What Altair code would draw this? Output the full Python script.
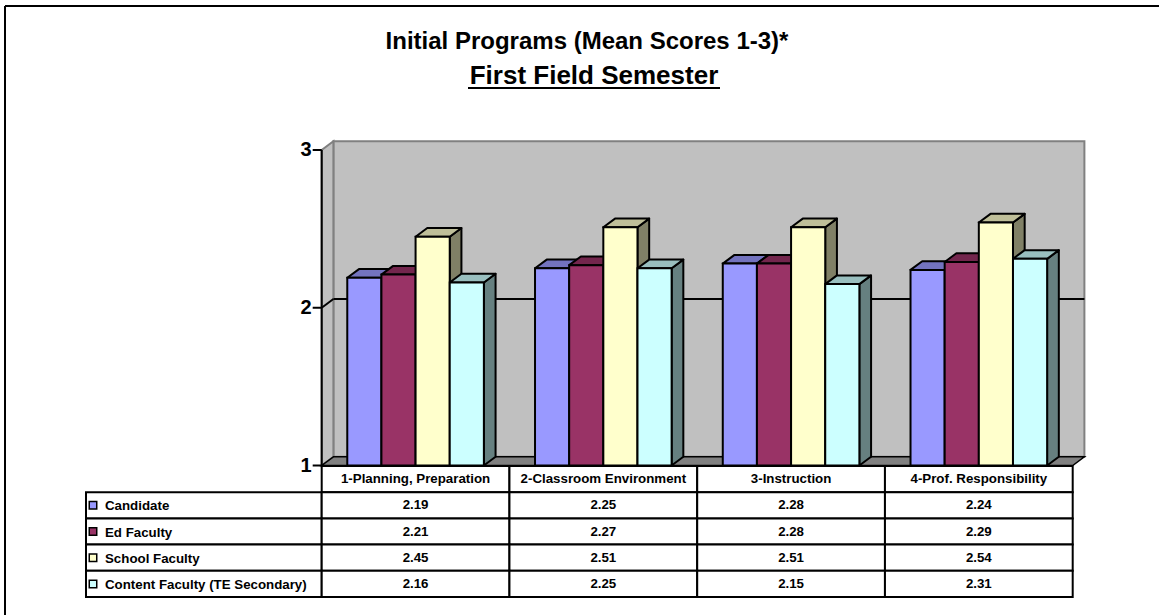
import altair as alt
import pandas as pd

# ---------------- data ----------------
categories = ["1-Planning, Preparation", "2-Classroom Environment",
              "3-Instruction", "4-Prof. Responsibility"]
series = ["Candidate", "Ed Faculty", "School Faculty",
          "Content Faculty (TE Secondary)"]
candidate = [2.19, 2.25, 2.28, 2.24]
ed_faculty = [2.21, 2.27, 2.28, 2.29]
school_faculty = [2.45, 2.51, 2.51, 2.54]
content_faculty = [2.16, 2.25, 2.15, 2.31]
y_ticks = [1, 2, 3]
grid_values = [2]
title_text = "Initial Programs (Mean Scores 1-3)*"
subtitle_text = "First Field Semester"

values = [candidate, ed_faculty, school_faculty, content_faculty]

# ---------------- style ----------------
front_colors = ["#9999FF", "#993366", "#FFFFCC", "#CCFFFF"]
top_colors = ["#7373BF", "#73264D", "#BFBF99", "#99BFBF"]
side_colors = ["#4D4D80", "#4D1A33", "#808066", "#668080"]
FONT = "Liberation Sans"

PX_X = 187.75                 # pixels per category unit
PX_Y = 157.75                 # pixels per score unit
PX_R = 26.2                   # pixels per table row
W, H = 1159, 615
X0, Y0, R0 = 321.7, 465.5, 466.0   # page position of category 0 / score 1 / row 0
X_DOM = [-X0 / PX_X, (W - X0) / PX_X]
Y_DOM = [1 - (H - Y0) / PX_Y, 1 + Y0 / PX_Y]
R_DOM = [-R0 / PX_R, (H - R0) / PX_R]
DX, DY = 11.7 / PX_X, 8.7 / PX_Y   # 3-D depth
GROUP = 0.7276
BW = GROUP / 4
BASE, TOP = 1, 3
LABEL_LEFT = -1.2554
TICK = 0.048
EDGE = 2


def X(f):
    return alt.X(f, type="quantitative",
                 scale=alt.Scale(domain=X_DOM, nice=False, zero=False), axis=None)


def Y(f):
    return alt.Y(f, type="quantitative",
                 scale=alt.Scale(domain=Y_DOM, nice=False, zero=False),
                 axis=None, stack=None)


def R(f):
    return alt.Y(f, type="quantitative",
                 scale=alt.Scale(domain=R_DOM, nice=False, zero=False, reverse=True),
                 axis=None)


# ---------------- tables for marks ----------------
fronts, sides, tops = [], [], []
for c, cat in enumerate(categories):
    for s, ser in enumerate(series):
        v = values[s][c]
        xl = c + 0.5 - GROUP / 2 + s * BW
        xr = xl + BW
        bid = f"{c}-{s}"
        fronts.append(dict(id=bid, xl=xl, xr=xr, y=BASE, v=v, col=front_colors[s]))
        sides.append(dict(id=bid, x=xr, y=BASE, y2=v, col=side_colors[s]))
        sides.append(dict(id=bid, x=xr + DX, y=BASE + DY, y2=v + DY, col=side_colors[s]))
        tops.append(dict(id=bid, y=v, x=xl, x2=xr, col=top_colors[s]))
        tops.append(dict(id=bid, y=v + DY, x=xl + DX, x2=xr + DX, col=top_colors[s]))
front_df = pd.DataFrame(fronts)
side_df = pd.DataFrame(sides)
top_df = pd.DataFrame(tops)

n = len(categories)
wall_df = pd.DataFrame([dict(x=DX, x2=n + DX, y=BASE + DY, y2=TOP + DY)])
lwall_df = pd.DataFrame([dict(id="l", x=0, y=BASE, y2=TOP),
                         dict(id="l", x=DX, y=BASE + DY, y2=TOP + DY)])
floor_df = pd.DataFrame([dict(id="f", y=BASE, x=0, x2=n),
                         dict(id="f", y=BASE + DY, x=DX, x2=n + DX)])
grid_df = pd.DataFrame([dict(x=DX, x2=n + DX, y=g + DY) for g in grid_values])
gdiag_df = pd.DataFrame([dict(x=0, x2=DX, y=g, y2=g + DY) for g in grid_values])
axis_df = pd.DataFrame([dict(x=0, y=BASE, y2=TOP)])
tick_df = pd.DataFrame([dict(x=-TICK, x2=0, y=t, label=str(t)) for t in y_ticks])

cells = []
for c in range(n):
    cells.append(dict(x=c, x2=c + 1, r=0, r2=1))
for s in range(len(series)):
    cells.append(dict(x=LABEL_LEFT, x2=0, r=s + 1, r2=s + 2))
    for c in range(n):
        cells.append(dict(x=c, x2=c + 1, r=s + 1, r2=s + 2))
cell_df = pd.DataFrame(cells)
head_df = pd.DataFrame([dict(x=c + 0.5, r=0.5, t=cat) for c, cat in enumerate(categories)])
val_df = pd.DataFrame([dict(x=c + 0.5, r=s + 1.5, t=f"{values[s][c]:.2f}")
                       for s in range(len(series)) for c in range(n)])
lab_df = pd.DataFrame([dict(x=LABEL_LEFT, r=s + 1.5, t=ser, col=front_colors[s])
                       for s, ser in enumerate(series)])

# ---------------- layers ----------------
border = alt.Chart(pd.DataFrame({"k": [0]})).mark_rule(color="black", strokeWidth=2).encode(
    x=alt.value(5), x2=alt.value(W), y=alt.value(6))
border2 = alt.Chart(pd.DataFrame({"k": [0]})).mark_rule(color="black", strokeWidth=2).encode(
    x=alt.value(5), y=alt.value(6), y2=alt.value(H))

title = alt.Chart(pd.DataFrame({"t": [title_text]})).mark_text(
    font=FONT, fontSize=24, fontWeight="bold", align="center", baseline="alphabetic",
    color="black").encode(x=alt.value(587), y=alt.value(49), text="t:N")
subtitle = alt.Chart(pd.DataFrame({"t": [subtitle_text]})).mark_text(
    font=FONT, fontSize=26, fontWeight="bold", align="center", baseline="alphabetic",
    color="black").encode(x=alt.value(594), y=alt.value(84), text="t:N")
underline = alt.Chart(pd.DataFrame({"k": [0]})).mark_rule(color="black", strokeWidth=2).encode(
    x=alt.value(468), x2=alt.value(720), y=alt.value(88))

wall = alt.Chart(wall_df).mark_rect(fill="#C0C0C0", stroke="#808080", strokeWidth=2,
                                    opacity=1).encode(
    x=X("x"), x2="x2:Q", y=Y("y"), y2="y2:Q")
lwall = alt.Chart(lwall_df).mark_area(orient="vertical", fill="#C0C0C0", stroke="#808080",
                                      strokeWidth=2, opacity=1).encode(
    x=X("x"), y=Y("y"), y2="y2:Q", detail="id:N")
floor = alt.Chart(floor_df).mark_area(orient="horizontal", fill="#808080", stroke="black",
                                      strokeWidth=1.5, opacity=1).encode(
    y=Y("y"), x=X("x"), x2="x2:Q", detail="id:N")
grid = alt.Chart(grid_df).mark_rule(color="black", strokeWidth=2).encode(
    x=X("x"), x2="x2:Q", y=Y("y"))
gdiag = alt.Chart(gdiag_df).mark_rule(color="black", strokeWidth=2).encode(
    x=X("x"), x2="x2:Q", y=Y("y"), y2="y2:Q")
yaxis = alt.Chart(axis_df).mark_rule(color="black", strokeWidth=2).encode(
    x=X("x"), y=Y("y"), y2="y2:Q")
ticks = alt.Chart(tick_df).mark_rule(color="black", strokeWidth=2).encode(
    x=X("x"), x2="x2:Q", y=Y("y"))
tlabels = alt.Chart(tick_df).mark_text(font=FONT, fontSize=20, fontWeight="bold",
                                       align="right", baseline="middle", dx=-1,
                                       color="black").encode(
    x=X("x"), y=Y("y"), text="label:N")

side_l = alt.Chart(side_df).mark_area(orient="vertical", stroke="black", strokeWidth=EDGE,
                                      opacity=1, strokeJoin="round").encode(
    x=X("x"), y=Y("y"), y2="y2:Q", detail="id:N", fill=alt.Fill("col:N", scale=None))
top_l = alt.Chart(top_df).mark_area(orient="horizontal", stroke="black", strokeWidth=EDGE,
                                    opacity=1, strokeJoin="round").encode(
    y=Y("y"), x=X("x"), x2="x2:Q", detail="id:N", fill=alt.Fill("col:N", scale=None))
front_l = alt.Chart(front_df).mark_rect(stroke="black", strokeWidth=EDGE, opacity=1).encode(
    x=X("xl"), x2="xr:Q", y=Y("y"), y2="v:Q", fill=alt.Fill("col:N", scale=None))

cell_l = alt.Chart(cell_df).mark_rect(fill="white", stroke="black", strokeWidth=2,
                                      opacity=1).encode(
    x=X("x"), x2="x2:Q", y=R("r"), y2="r2:Q")
txt = dict(font=FONT, fontSize=13.3, fontWeight="bold", baseline="middle", color="black")
head_l = alt.Chart(head_df).mark_text(align="center", **txt).encode(
    x=X("x"), y=R("r"), text="t:N")
val_l = alt.Chart(val_df).mark_text(align="center", **txt).encode(
    x=X("x"), y=R("r"), text="t:N")
lab_l = alt.Chart(lab_df).mark_text(align="left", dx=19, dy=1, **txt).encode(
    x=X("x"), y=R("r"), text="t:N")
icon_l = alt.Chart(lab_df).mark_square(size=56, stroke="black", strokeWidth=1.5, opacity=1,
                                       xOffset=7).encode(
    x=X("x"), y=R("r"), fill=alt.Fill("col:N", scale=None))

chart = alt.layer(
    border, border2, title, subtitle, underline,
    wall, lwall, floor, grid, gdiag, yaxis, ticks, tlabels,
    side_l, top_l, front_l,
    cell_l, head_l, val_l, lab_l, icon_l,
).resolve_scale(y="independent").properties(
    width=W, height=H, padding=0, autosize=alt.AutoSizeParams(type="none"),
    background="white",
).configure_view(stroke=None)

chart.save("out.html", embed_options={"renderer": "svg", "actions": False})
